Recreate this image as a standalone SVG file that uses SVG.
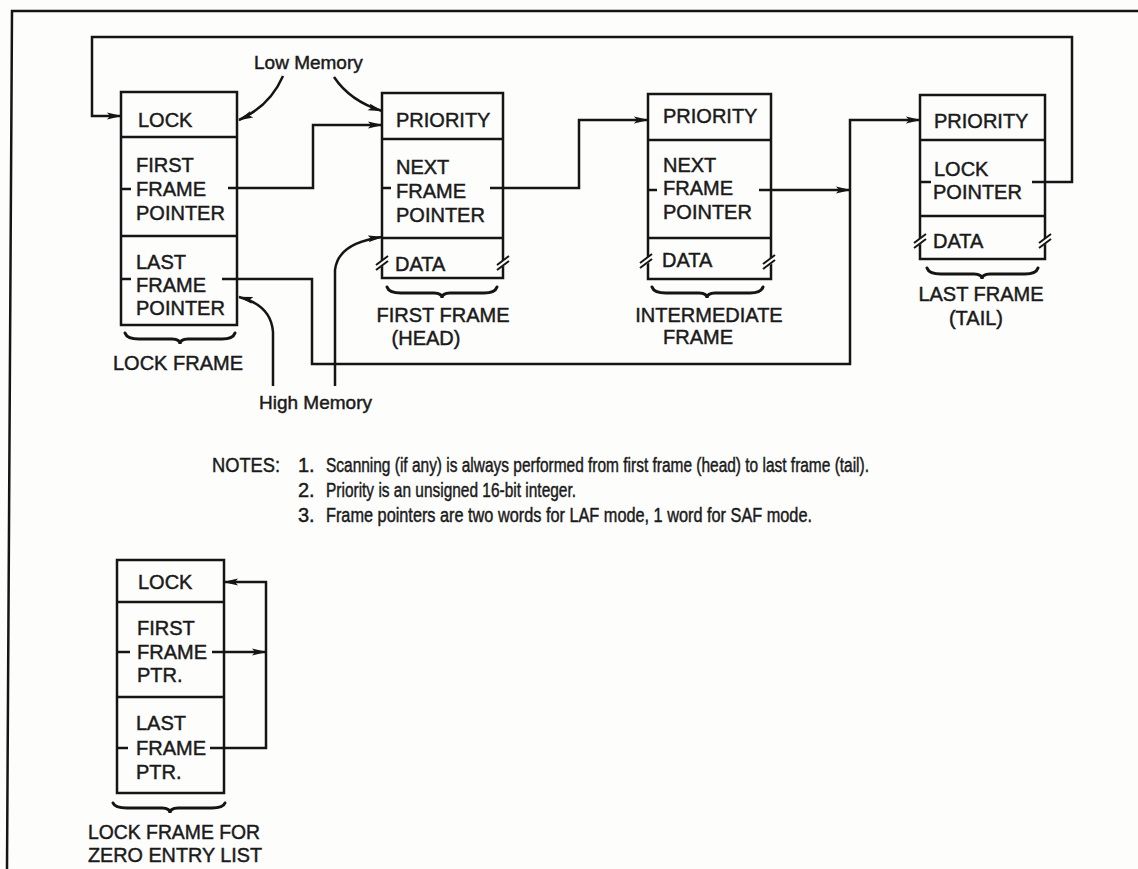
<svg xmlns="http://www.w3.org/2000/svg" xmlns:xlink="http://www.w3.org/1999/xlink" width="1138" height="869" viewBox="0 0 1138 869">
<style>
.t{font-family:"Liberation Sans",Arial,Helvetica,sans-serif;font-size:20px;fill:#1a1a1a;stroke:#1a1a1a;stroke-width:0.45px}
.s{font-size:19px}
.n{font-size:20px}
.m{text-anchor:middle}
.ln{fill:none;stroke:#151515;stroke-width:2.5;stroke-linejoin:miter}
.box{fill:none;stroke:#151515;stroke-width:2.5}
.br{fill:none;stroke:#151515;stroke-width:3;stroke-linecap:round}
</style>
<defs>
<marker id="ah" markerWidth="15" markerHeight="8" refX="14" refY="4" orient="auto" markerUnits="userSpaceOnUse">
<path d="M0,0.5 L15,4 L0,7.5 L3,4 Z" fill="#151515"/>
</marker>
<g id="brk">
<polygon points="-6,3 6,-6 6,1 -6,8" fill="#fdfdfc"/>
<line x1="-6" y1="3" x2="6" y2="-6" stroke="#151515" stroke-width="2"/>
<line x1="-6" y1="8" x2="6" y2="-1" stroke="#151515" stroke-width="2"/>
</g>
</defs>
<rect x="0" y="0" width="1138" height="869" fill="#fdfdfc"/>
<path class="ln" d="M1138,11 L12,11 L7,869"/>

<g id="connectors">
<path class="ln" d="M1032,182 H1072 V37 H92 V116 H121" marker-end="url(#ah)"/>
<path class="ln" d="M228,188 H313 V125 H382" marker-end="url(#ah)"/>
<path class="ln" d="M490,188 H579 V120 H648" marker-end="url(#ah)"/>
<path class="ln" d="M759,190 H850" marker-end="url(#ah)"/>
<path class="ln" d="M222,279 H312 V364 H850 V120 H920" marker-end="url(#ah)"/>
<path class="ln" d="M283,76 Q270,106 239,120" marker-end="url(#ah)"/>
<path class="ln" d="M334,77 Q350,101 382,111" marker-end="url(#ah)"/>
<path class="ln" d="M273,386 V332 Q271,305 239,297" marker-end="url(#ah)"/>
<path class="ln" d="M335,386 V270 Q338,243 382,237" marker-end="url(#ah)"/>
<path class="ln" d="M212,652 H266" marker-end="url(#ah)"/>
<path class="ln" d="M210,748 H266 V582 H224" marker-end="url(#ah)"/>
</g>

<g id="low-memory"><text class="t s" x="254" y="69">Low Memory</text></g>
<g id="high-memory"><text class="t s" x="259" y="409">High Memory</text></g>

<g id="lock-frame">
<rect class="box" x="121" y="92" width="116" height="233"/>
<line class="ln" x1="121" y1="137" x2="237" y2="137"/>
<line class="ln" x1="121" y1="236" x2="237" y2="236"/>
<line class="ln" x1="121" y1="189" x2="131" y2="189"/>
<line class="ln" x1="121" y1="279" x2="131" y2="279"/>
<text class="t" x="138" y="127">LOCK</text>
<text class="t" x="136" y="172">FIRST</text>
<text class="t" x="136" y="196">FRAME</text>
<text class="t" x="136" y="220">POINTER</text>
<text class="t" x="136" y="269">LAST</text>
<text class="t" x="136" y="292">FRAME</text>
<text class="t" x="136" y="315">POINTER</text>
<path class="br" d="M125,333 Q127,339 139,339 H172 Q180,339 180,344 Q180,339 188,339 H222 Q233,339 235,333"/>
<text class="t m" x="178" y="370">LOCK FRAME</text>
</g>

<g id="first-frame">
<rect class="box" x="382" y="93" width="121" height="185"/>
<line class="ln" x1="382" y1="139" x2="503" y2="139"/>
<line class="ln" x1="382" y1="238" x2="503" y2="238"/>
<line class="ln" x1="382" y1="188" x2="391" y2="188"/>
<use xlink:href="#brk" x="382" y="262"/>
<use xlink:href="#brk" x="503" y="262"/>
<text class="t" x="396" y="127">PRIORITY</text>
<text class="t" x="396" y="174">NEXT</text>
<text class="t" x="396" y="198">FRAME</text>
<text class="t" x="396" y="222">POINTER</text>
<text class="t" x="395" y="271">DATA</text>
<path class="br" d="M387,287 Q389,293 401,293 H434 Q442,293 442,298 Q442,293 450,293 H484 Q495,293 497,287"/>
<text class="t m" x="443" y="322">FIRST FRAME</text>
<text class="t m" x="426" y="345">(HEAD)</text>
</g>

<g id="intermediate-frame">
<rect class="box" x="648" y="94" width="123" height="185"/>
<line class="ln" x1="648" y1="140" x2="771" y2="140"/>
<line class="ln" x1="648" y1="238" x2="771" y2="238"/>
<line class="ln" x1="648" y1="190" x2="657" y2="190"/>
<use xlink:href="#brk" x="646" y="260"/>
<use xlink:href="#brk" x="769" y="261"/>
<text class="t" x="663" y="123">PRIORITY</text>
<text class="t" x="663" y="172">NEXT</text>
<text class="t" x="663" y="195">FRAME</text>
<text class="t" x="663" y="219">POINTER</text>
<text class="t" x="662" y="267">DATA</text>
<path class="br" d="M652,287 Q654,293 666,293 H699 Q707,293 707,298 Q707,293 715,293 H750 Q761,293 763,287"/>
<text class="t m" x="709" y="322">INTERMEDIATE</text>
<text class="t m" x="698" y="344">FRAME</text>
</g>

<g id="last-frame">
<rect class="box" x="920" y="95" width="125" height="164"/>
<line class="ln" x1="920" y1="140" x2="1045" y2="140"/>
<line class="ln" x1="920" y1="216" x2="1045" y2="216"/>
<line class="ln" x1="920" y1="182" x2="931" y2="182"/>
<use xlink:href="#brk" x="920" y="240"/>
<use xlink:href="#brk" x="1045" y="240"/>
<text class="t" x="934" y="128">PRIORITY</text>
<text class="t" x="934" y="176">LOCK</text>
<text class="t" x="933" y="199">POINTER</text>
<text class="t" x="933" y="248">DATA</text>
<path class="br" d="M927,268 Q929,274 941,274 H974 Q982,274 982,279 Q982,274 990,274 H1025 Q1036,274 1038,268"/>
<text class="t m" x="981" y="301">LAST FRAME</text>
<text class="t m" x="976" y="325">(TAIL)</text>
</g>

<g id="notes">
<text class="t n" x="212" y="472" textLength="68" lengthAdjust="spacingAndGlyphs">NOTES:</text>
<text class="t n" x="298" y="472">1.</text>
<text class="t n" x="326" y="472" textLength="543" lengthAdjust="spacingAndGlyphs">Scanning (if any) is always performed from first frame (head) to last frame (tail).</text>
<text class="t n" x="298" y="497">2.</text>
<text class="t n" x="326" y="497" textLength="250" lengthAdjust="spacingAndGlyphs">Priority is an unsigned 16-bit integer.</text>
<text class="t n" x="298" y="522">3.</text>
<text class="t n" x="326" y="522" textLength="486" lengthAdjust="spacingAndGlyphs">Frame pointers are two words for LAF mode, 1 word for SAF mode.</text>
</g>

<g id="zero-entry-lock-frame">
<rect class="box" x="117" y="560" width="107" height="233"/>
<line class="ln" x1="117" y1="602" x2="224" y2="602"/>
<line class="ln" x1="117" y1="697" x2="224" y2="697"/>
<line class="ln" x1="117" y1="652" x2="130" y2="652"/>
<line class="ln" x1="117" y1="748" x2="128" y2="748"/>
<text class="t" x="138" y="589">LOCK</text>
<text class="t" x="137" y="635">FIRST</text>
<text class="t" x="137" y="659">FRAME</text>
<text class="t" x="137" y="682">PTR.</text>
<text class="t" x="136" y="730">LAST</text>
<text class="t" x="136" y="755">FRAME</text>
<text class="t" x="136" y="779">PTR.</text>
<path class="br" d="M113,803 Q115,808 127,808 H162 Q170,808 170,813 Q170,808 178,808 H212 Q223,808 225,803"/>
<text class="t m" x="174" y="839" textLength="172" lengthAdjust="spacingAndGlyphs">LOCK FRAME FOR</text>
<text class="t m" x="175" y="862" textLength="174" lengthAdjust="spacingAndGlyphs">ZERO ENTRY LIST</text>
</g>
</svg>
